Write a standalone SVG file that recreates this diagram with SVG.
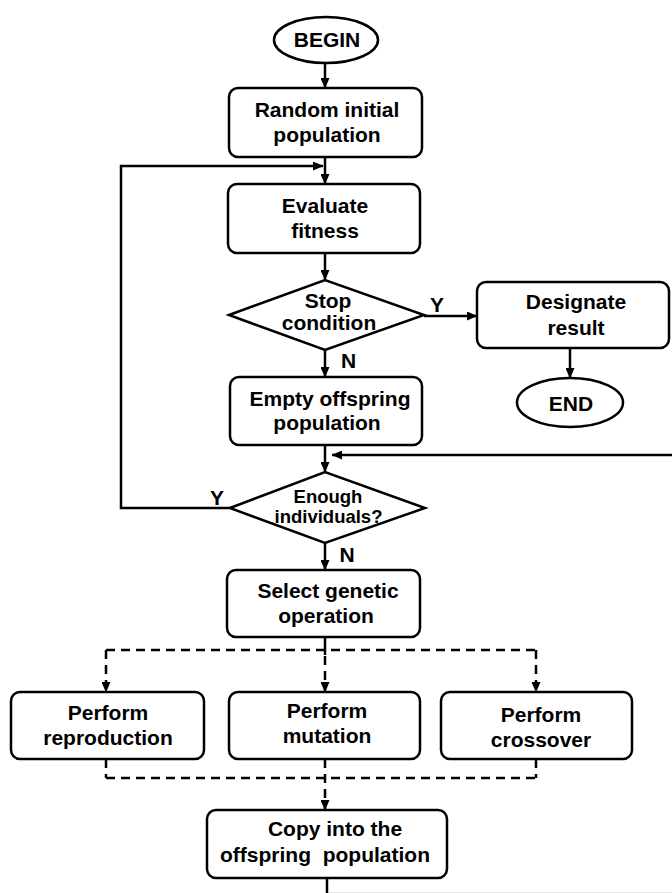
<svg xmlns="http://www.w3.org/2000/svg" width="672" height="893" viewBox="0 0 672 893">
  <defs>
    <marker id="arrow" markerUnits="userSpaceOnUse" markerWidth="11" markerHeight="9" refX="10" refY="4.5" orient="auto">
      <path d="M0,0 L10.5,4.5 L0,9 z" fill="#000"/>
    </marker>
    <style>
      .shape { fill: #fff; stroke: #000; stroke-width: 2.5; }
      .edge { fill: none; stroke: #000; stroke-width: 2.5; }
      .dash { fill: none; stroke: #000; stroke-width: 2.5; stroke-dasharray: 9 6; }
      .lbl { font-family: "Liberation Sans", Arial, sans-serif; font-weight: bold; font-size: 21px; text-anchor: middle; fill: #000; }
      .small { font-size: 18.5px; }
    </style>
  </defs>
  <rect width="672" height="893" fill="#fff"/>

  <!-- connectors -->
  <g id="connectors">
    <line class="edge" x1="325" y1="63" x2="325" y2="88" marker-end="url(#arrow)"/>
    <line class="edge" x1="325" y1="157" x2="325" y2="184" marker-end="url(#arrow)"/>
    <polyline class="edge" points="230,508 121,508 121,166 323,166" marker-end="url(#arrow)"/>
    <line class="edge" x1="325" y1="253" x2="325" y2="280" marker-end="url(#arrow)"/>
    <line class="edge" x1="424" y1="316" x2="477" y2="316" marker-end="url(#arrow)"/>
    <line class="edge" x1="570" y1="348" x2="570" y2="378" marker-end="url(#arrow)"/>
    <line class="edge" x1="325" y1="350" x2="325" y2="377" marker-end="url(#arrow)"/>
    <line class="edge" x1="325" y1="445" x2="325" y2="472" marker-end="url(#arrow)"/>
    <line class="edge" x1="672" y1="455" x2="332" y2="455" marker-end="url(#arrow)"/>
    <line class="edge" x1="325" y1="543" x2="325" y2="570" marker-end="url(#arrow)"/>
    <!-- fan-out to the three operations -->
    <line class="edge" x1="325" y1="638" x2="325" y2="655"/>
    <line class="dash" x1="106" y1="650" x2="536" y2="650"/>
    <polyline class="dash" points="106,650 106,692" marker-end="url(#arrow)"/>
    <polyline class="dash" points="325,656 325,692" marker-end="url(#arrow)"/>
    <polyline class="dash" points="536,650 536,692" marker-end="url(#arrow)"/>
    <!-- fan-in to the copy step -->
    <line class="dash" x1="106" y1="759" x2="106" y2="778"/>
    <line class="dash" x1="536" y1="759" x2="536" y2="778"/>
    <line class="dash" x1="106" y1="778" x2="536" y2="778"/>
    <polyline class="dash" points="325,759 325,810" marker-end="url(#arrow)"/>
    <line class="edge" x1="327" y1="878" x2="327" y2="893"/>
    <line x1="329" y1="892.5" x2="672" y2="892.5" stroke="#e6e6e6" stroke-width="1"/>
    <!-- branch labels -->
    <text class="lbl" x="437" y="312">Y</text>
    <text class="lbl" x="348.5" y="368">N</text>
    <text class="lbl" x="217" y="505">Y</text>
    <text class="lbl" x="347" y="562">N</text>
  </g>

  <g id="begin">
    <ellipse class="shape" cx="326" cy="40" rx="52" ry="23"/>
    <text class="lbl" x="327" y="47">BEGIN</text>
  </g>

  <g id="random-init">
    <rect class="shape" x="229" y="88" width="193" height="69" rx="9"/>
    <text class="lbl" x="327" y="117">Random initial</text>
    <text class="lbl" x="327" y="142">population</text>
  </g>

  <g id="evaluate">
    <rect class="shape" x="228" y="184" width="192" height="69" rx="9"/>
    <text class="lbl" x="325" y="213">Evaluate</text>
    <text class="lbl" x="325" y="238">fitness</text>
  </g>

  <g id="stop">
    <polygon class="shape" points="229,315 325,280 424,315 325,350"/>
    <text class="lbl" x="328" y="308">Stop</text>
    <text class="lbl" x="329" y="330">condition</text>
  </g>

  <g id="designate">
    <rect class="shape" x="477" y="282" width="192" height="66" rx="9"/>
    <text class="lbl" x="576" y="309">Designate</text>
    <text class="lbl" x="576" y="335">result</text>
  </g>

  <g id="end">
    <ellipse class="shape" cx="570" cy="402.5" rx="53" ry="24.5"/>
    <text class="lbl" x="571" y="411">END</text>
  </g>

  <g id="empty-offspring">
    <rect class="shape" x="230" y="377" width="192" height="68" rx="9"/>
    <text class="lbl" x="330" y="406">Empty offspring</text>
    <text class="lbl" x="327" y="430">population</text>
  </g>

  <g id="enough">
    <polygon class="shape" points="230,508 325,472 425,508 325,543"/>
    <text class="lbl small" x="328" y="503">Enough</text>
    <text class="lbl small" x="328.5" y="523">individuals?</text>
  </g>

  <g id="select-op">
    <rect class="shape" x="227" y="570" width="193" height="67" rx="9"/>
    <text class="lbl" x="328" y="598">Select genetic</text>
    <text class="lbl" x="326" y="623">operation</text>
  </g>

  <g id="reproduction">
    <rect class="shape" x="11" y="692" width="193" height="67" rx="9"/>
    <text class="lbl" x="108" y="720">Perform</text>
    <text class="lbl" x="108" y="745">reproduction</text>
  </g>

  <g id="mutation">
    <rect class="shape" x="229" y="692" width="191" height="67" rx="9"/>
    <text class="lbl" x="327" y="718">Perform</text>
    <text class="lbl" x="327" y="743">mutation</text>
  </g>

  <g id="crossover">
    <rect class="shape" x="441" y="692" width="191" height="67" rx="9"/>
    <text class="lbl" x="541" y="722">Perform</text>
    <text class="lbl" x="541" y="747">crossover</text>
  </g>

  <g id="copy">
    <rect class="shape" x="207" y="810" width="240" height="68" rx="9"/>
    <text class="lbl" x="335" y="836">Copy into the</text>
    <text class="lbl" x="325" y="862" style="white-space:pre">offspring  population</text>
  </g>
</svg>
